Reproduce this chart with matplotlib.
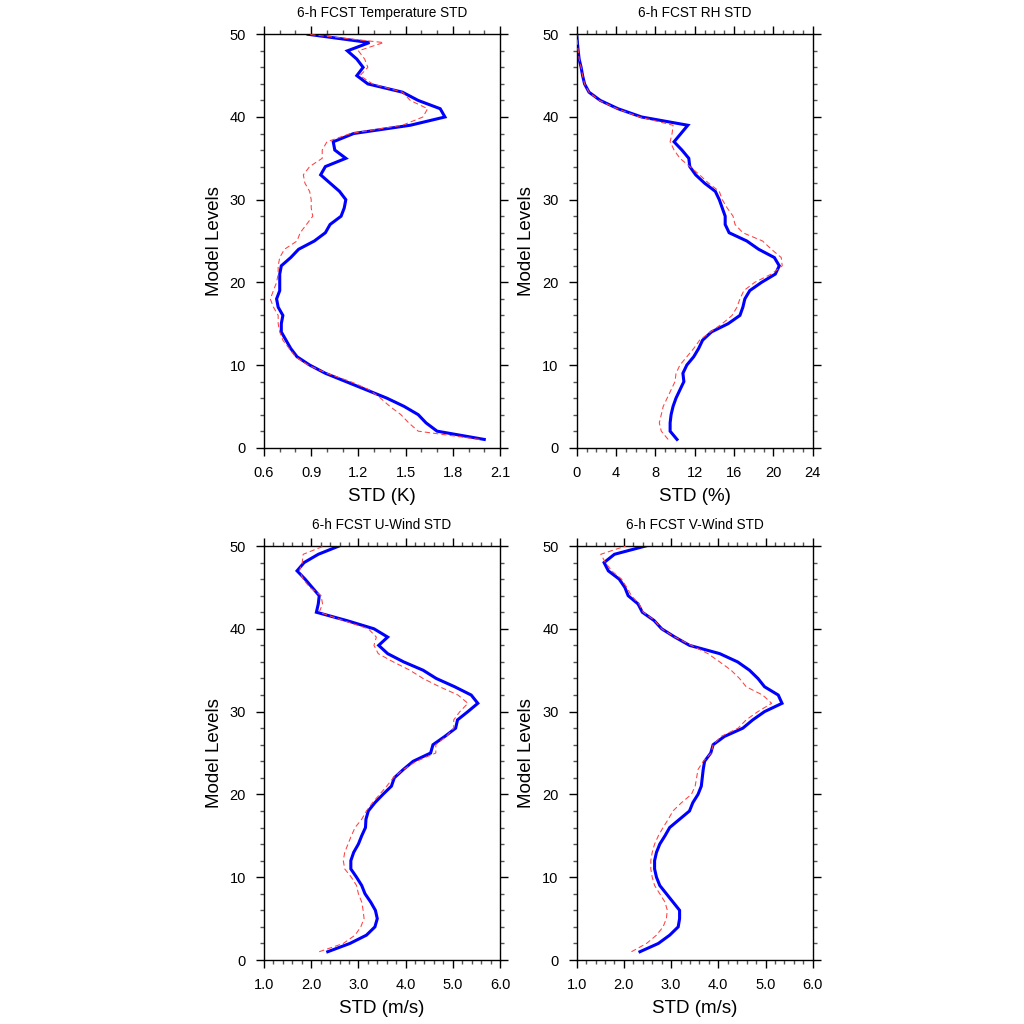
import numpy as np
import matplotlib
matplotlib.use("Agg")
import matplotlib.pyplot as plt
from matplotlib.ticker import MultipleLocator, FormatStrFormatter

plt.rcParams['font.family'] = ['Liberation Sans', 'DejaVu Sans']

levels = list(range(1, 51))

# values listed from level 1 to level 50
t_blue = [2.00, 1.70, 1.63, 1.58, 1.49, 1.38, 1.25, 1.12, 0.99, 0.89,
          0.81, 0.77, 0.74, 0.71, 0.71, 0.72, 0.69, 0.68, 0.70, 0.70,
          0.70, 0.71, 0.77, 0.82, 0.92, 0.99, 1.02, 1.09, 1.11, 1.12,
          1.08, 1.02, 0.96, 0.99, 1.12, 1.05, 1.04, 1.17, 1.53, 1.75,
          1.72, 1.58, 1.48, 1.26, 1.19, 1.23, 1.19, 1.13, 1.27, 0.88]
t_red = [1.97, 1.58, 1.52, 1.47, 1.40, 1.34, 1.27, 1.15, 1.00, 0.88,
         0.80, 0.76, 0.72, 0.70, 0.69, 0.69, 0.66, 0.64, 0.66, 0.68,
         0.69, 0.69, 0.70, 0.73, 0.81, 0.83, 0.87, 0.91, 0.90, 0.90,
         0.89, 0.86, 0.85, 0.89, 0.97, 0.97, 1.00, 1.15, 1.48, 1.61,
         1.64, 1.53, 1.48, 1.29, 1.21, 1.26, 1.24, 1.20, 1.36, 0.88]

rh_blue = [10.2, 9.5, 9.5, 9.6, 9.8, 10.1, 10.5, 10.9, 10.8, 11.2,
           11.9, 12.4, 12.8, 13.7, 15.4, 16.6, 16.9, 17.1, 17.6, 18.8,
           20.2, 20.6, 20.1, 18.5, 17.3, 15.5, 15.1, 15.1, 14.8, 14.5,
           14.1, 13.0, 12.1, 11.5, 11.4, 10.7, 9.9, 10.6, 11.3, 6.6,
           4.2, 2.4, 1.25, 0.8, 0.6, 0.45, 0.25, 0.15, 0.07, 0.0]
rh_red = [9.3, 8.6, 8.4, 8.6, 8.8, 9.2, 9.6, 10.0, 10.1, 10.5,
          11.2, 11.9, 12.5, 13.6, 14.8, 15.8, 16.3, 16.6, 17.0, 18.1,
          19.8, 20.9, 20.8, 19.8, 18.9, 16.9, 16.1, 15.9, 15.3, 14.8,
          14.5, 13.4, 12.5, 11.5, 10.5, 9.9, 9.5, 9.7, 9.8, 6.4,
          4.1, 2.3, 1.25, 0.8, 0.6, 0.45, 0.25, 0.15, 0.07, 0.0]

u_blue = [2.35, 2.82, 3.17, 3.35, 3.40, 3.36, 3.26, 3.14, 3.07, 2.96,
          2.84, 2.84, 2.90, 3.00, 3.07, 3.15, 3.16, 3.21, 3.35, 3.52,
          3.70, 3.76, 3.95, 4.16, 4.53, 4.58, 4.83, 5.06, 5.10, 5.32,
          5.53, 5.39, 5.04, 4.65, 4.37, 3.96, 3.62, 3.43, 3.62, 3.33,
          2.75, 2.11, 2.15, 2.17, 2.02, 1.87, 1.70, 1.85, 2.15, 2.59]
u_red = [2.17, 2.68, 2.93, 3.05, 3.12, 3.10, 3.07, 3.00, 2.96, 2.85,
         2.71, 2.68, 2.71, 2.78, 2.85, 2.93, 3.07, 3.17, 3.30, 3.45,
         3.60, 3.74, 3.95, 4.23, 4.64, 4.64, 4.86, 5.02, 5.02, 5.15,
         5.32, 5.11, 4.72, 4.37, 4.09, 3.74, 3.42, 3.33, 3.38, 3.21,
         2.68, 2.17, 2.24, 2.21, 1.97, 1.83, 1.75, 1.81, 1.83, 2.27]

v_blue = [2.34, 2.73, 2.97, 3.15, 3.18, 3.18, 3.04, 2.90, 2.76, 2.69,
          2.65, 2.65, 2.69, 2.76, 2.87, 2.97, 3.18, 3.39, 3.46, 3.57,
          3.64, 3.66, 3.68, 3.71, 3.84, 3.89, 4.13, 4.52, 4.73, 4.98,
          5.35, 5.27, 4.98, 4.84, 4.66, 4.41, 4.03, 3.39, 3.08, 2.80,
          2.64, 2.39, 2.30, 2.09, 2.02, 1.90, 1.67, 1.58, 1.80, 2.46]
v_red = [2.16, 2.48, 2.69, 2.83, 2.90, 2.92, 2.87, 2.76, 2.65, 2.60,
         2.57, 2.57, 2.60, 2.65, 2.73, 2.83, 2.94, 3.04, 3.22, 3.43,
         3.51, 3.54, 3.57, 3.68, 3.85, 3.89, 4.06, 4.42, 4.59, 4.84,
         5.13, 4.94, 4.59, 4.45, 4.27, 4.03, 3.78, 3.43, 3.08, 2.80,
         2.65, 2.41, 2.32, 2.16, 2.06, 1.95, 1.74, 1.61, 1.51, 2.04]

titles = ["6-h FCST Temperature STD", "6-h FCST RH STD",
          "6-h FCST U-Wind STD", "6-h FCST V-Wind STD"]
xlabels = ["STD (K)", "STD (%)", "STD (m/s)", "STD (m/s)"]
xlims = [(0.6, 2.1), (0, 24), (1.0, 6.0), (1.0, 6.0)]
xmajor = [0.3, 4, 1.0, 1.0]
xminor = [0.1, 1, 0.2, 0.2]
xfmt = ["%.1f", "%d", "%.1f", "%.1f"]
blues = [t_blue, rh_blue, u_blue, v_blue]
reds = [t_red, rh_red, u_red, v_red]

fig = plt.figure(figsize=(10.24, 10.24), dpi=100)
W = 1024.0
boxes = [(264, 500, 34.3, 447.7), (576.7, 812.7, 34.3, 447.7),
         (264, 500, 546, 960), (576.7, 812.7, 546, 960)]

for i in range(4):
    l, r, t, b = boxes[i]
    ax = fig.add_axes([l / W, 1 - b / W, (r - l) / W, (b - t) / W])
    ax.plot(blues[i], levels, color='#0000ff', lw=2.2, zorder=2,
            solid_joinstyle='miter')
    ax.plot(reds[i], levels, color='#ff4040', lw=0.75, zorder=3,
            dashes=(5, 3))
    ax.set_xlim(*xlims[i])
    ax.set_ylim(0, 50)
    ax.xaxis.set_major_locator(MultipleLocator(xmajor[i]))
    ax.xaxis.set_minor_locator(MultipleLocator(xminor[i]))
    ax.xaxis.set_major_formatter(FormatStrFormatter(xfmt[i]))
    ax.yaxis.set_major_locator(MultipleLocator(10))
    ax.yaxis.set_minor_locator(MultipleLocator(2))
    ax.tick_params(which='both', direction='out', top=True, right=True,
                   labelsize=10.5, width=1.0)
    ax.tick_params(which='major', length=5.5)
    ax.tick_params(axis='x', which='major', pad=7.5)
    ax.tick_params(axis='y', which='major', pad=7.5)
    ax.tick_params(which='minor', length=3, color='#555555')
    for s in ax.spines.values():
        s.set_linewidth(1.0)
    ax.set_title(titles[i], fontsize=9.8, pad=12.5)
    ax.set_xlabel(xlabels[i], fontsize=13.5, labelpad=6.0)
    ax.set_ylabel("Model Levels", fontsize=13.5, labelpad=5.0)

fig.savefig("out.png", dpi=100)
